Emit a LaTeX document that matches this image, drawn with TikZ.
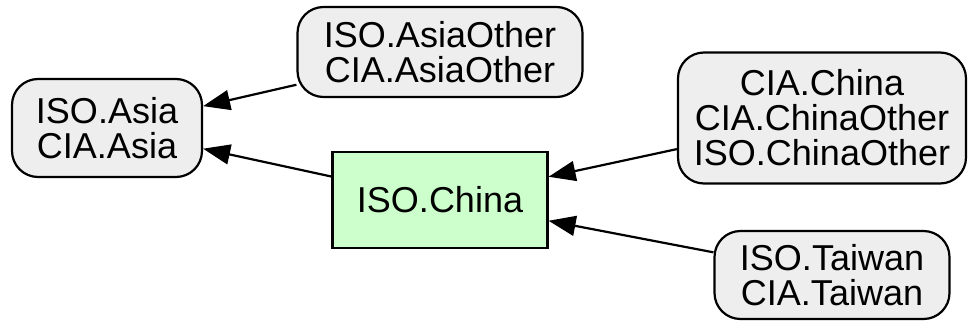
\documentclass[tikz,border=0pt]{standalone}
\usepackage{fontspec}
\setmainfont{Liberation Sans}
\usepackage{tikz}
\usetikzlibrary{arrows.meta, positioning, shapes.geometric, calc}

\definecolor{boxgray}{HTML}{EEEEEE}
\definecolor{boxgreen}{HTML}{CCFFCC}

\tikzset{
	grp/.style={draw, line width=2.2pt, fill=boxgray, rounded corners=26pt, align=center, inner sep=0pt, font=\fontsize{36}{35}\selectfont},
	leaf/.style={draw, line width=2.2pt, fill=boxgreen, align=center, inner sep=0pt, font=\fontsize{36}{35}\selectfont},
	link/.style={line width=2.2pt, -{Triangle[length=27pt,width=20pt]}}
}

\begin{document}
\begin{tikzpicture}[x=1pt,y=1pt]
				\useasboundingbox (0,0) rectangle (972,327);
				
				%nodes
				\draw (107,199) node [grp, minimum width=190pt, minimum height=98pt] (asia) {ISO.Asia\\CIA.Asia};
				\draw (440,275) node [grp, minimum width=285pt, minimum height=90pt] (asiaother) {ISO.AsiaOther\\CIA.AsiaOther};
				\draw (440,127) node [leaf, minimum width=215pt, minimum height=96pt] (china) {ISO.China};
				\draw (822,209) node [grp, minimum width=288pt, minimum height=131pt] (chinaother) {CIA.China\\CIA.ChinaOther\\ISO.ChinaOther};
				\draw (832,52) node [grp, minimum width=235pt, minimum height=88pt] (taiwan) {ISO.Taiwan\\CIA.Taiwan};
				
				%lines
				\draw [link] (asiaother) to (asia);
				\draw [link] (china) to (asia);
				\draw [link] (chinaother) to (china);
				\draw [link] (taiwan) to (china);
				\end{tikzpicture}
\end{document}
